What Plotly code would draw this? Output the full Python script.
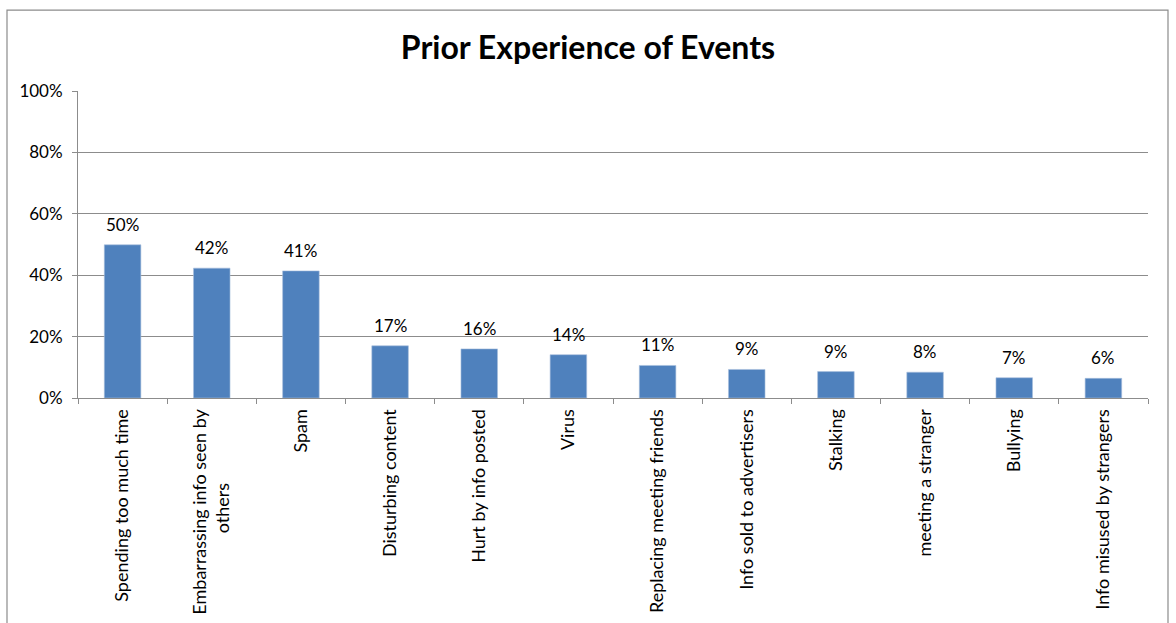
import plotly.graph_objects as go

NB = "\u00a0"
categories = [
    "Spending too much time",
    "Embarrassing info seen by<br>others" + NB * 16,
    "Spam",
    "Disturbing content",
    "Hurt by info posted",
    "Virus",
    "Replacing meeting friends",
    "Info sold to advertisers",
    "Stalking",
    "meeting a stranger",
    "Bullying",
    "Info misused by strangers",
]
values = [0.499, 0.423, 0.414, 0.170, 0.160, 0.141, 0.106, 0.093, 0.086, 0.084, 0.066, 0.064]
y_ticks = [0, 0.2, 0.4, 0.6, 0.8, 1.0]
y_tick_labels = ["0%", "20%", "40%", "60%", "80%", "100%"]

FONT = "Lato"
GRID = "#8c8c8c"

fig = go.Figure()
fig.add_trace(go.Bar(
    x=categories,
    y=values,
    marker=dict(color="#4F81BD", line=dict(color="#a9c0dd", width=0.6)),
    width=0.41,
    hoverinfo="skip",
))

for c, v in zip(categories, values):
    fig.add_annotation(
        x=c, y=v, text=f"{v:.0%}", showarrow=False,
        yanchor="bottom", yshift=8,
        font=dict(family=FONT, size=17, color="#000000"),
    )

L, R, T, B = 78, 28, 91, 224.5
W, H = 1176, 623
pw, ph = W - L - R, H - T - B

fig.add_shape(
    type="rect", xref="paper", yref="paper",
    x0=(7 - L) / pw, x1=(1168 - L) / pw,
    y0=(H - B - 640) / ph, y1=(H - B - 10) / ph,
    line=dict(color="#8c8c8c", width=1.2), fillcolor="rgba(0,0,0,0)", layer="below",
)

fig.update_layout(
    width=W, height=H,
    margin=dict(l=L, r=R, t=T, b=B, pad=0, autoexpand=False),
    paper_bgcolor="white", plot_bgcolor="white",
    showlegend=False,
    title=dict(
        text="<b>Prior Experience of Events</b>",
        x=0.5, xref="container", xanchor="center",
        y=1 - 48 / H, yref="container", yanchor="middle",
        font=dict(family=FONT, size=32, color="#000000"),
    ),
    font=dict(family=FONT, size=17, color="#000000"),
    bargap=0.59,
)
fig.update_yaxes(
    range=[0, 1.0], tickvals=y_ticks, ticktext=y_tick_labels,
    showgrid=True, gridcolor=GRID, gridwidth=1,
    showline=True, linecolor=GRID, linewidth=1,
    ticks="outside", ticklen=5, tickcolor=GRID,
    zeroline=False, automargin=False,
    tickfont=dict(family=FONT, size=17, color="#000000"),
    ticklabelstandoff=6,
)
fig.update_xaxes(
    type="category", tickangle=-90,
    showline=True, linecolor=GRID, linewidth=1,
    ticks="outside", ticklen=5, tickcolor=GRID, tickson="boundaries",
    showgrid=False, automargin=False,
    tickfont=dict(family=FONT, size=18, color="#000000"),
    ticklabelstandoff=3,
)

fig.write_html("out.html")
